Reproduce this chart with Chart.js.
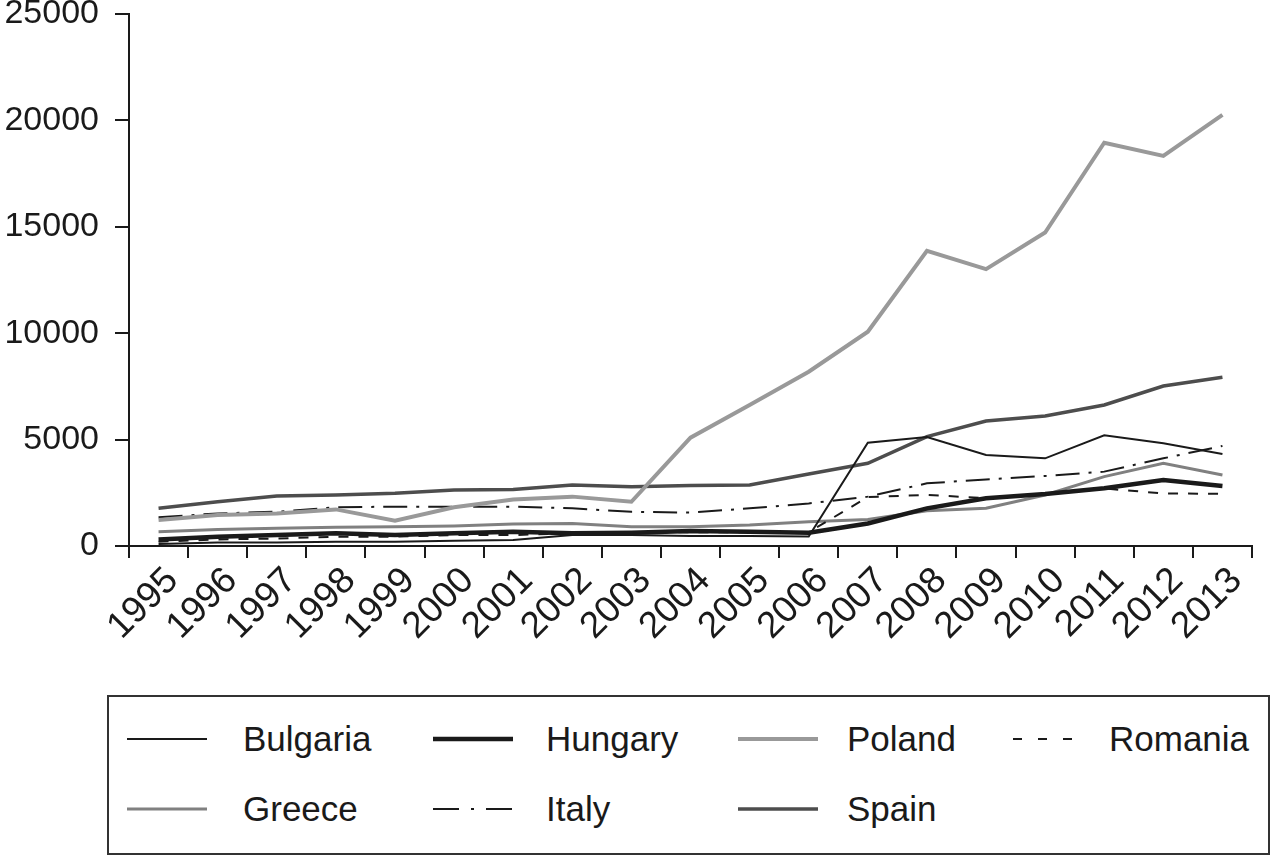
<!DOCTYPE html>
<html>
<head>
<meta charset="utf-8">
<script src="https://cdn.jsdelivr.net/npm/chart.js@4/dist/chart.umd.min.js"></script>
<style>
  html, body { margin: 0; padding: 0; background: #fff; }
  body { width: 1275px; height: 855px; position: relative; overflow: hidden; font-family: "Liberation Sans", Arial, sans-serif; }
  #wrap { position: absolute; left: 0; top: 0; width: 1275px; height: 690px; }
  #legend { position: absolute; left: 107px; top: 695px; width: 1159px; height: 156px; border: 2px solid #333; box-sizing: content-box; }
  .item { position: absolute; height: 40px; }
  .item svg { position: absolute; left: 0; top: 15px; }
  .item span { position: absolute; top: 0; font-size: 35px; line-height: 40px; color: #1a1a1a; white-space: nowrap; }
</style>
</head>
<body>
<div id="wrap"><canvas id="c" width="1275" height="690"></canvas></div>
<div id="legend"></div>
<script>
const years = ['1995','1996','1997','1998','1999','2000','2001','2002','2003','2004','2005','2006','2007','2008','2009','2010','2011','2012','2013'];
const bulgaria = [95,160,160,200,200,250,280,515,515,470,470,450,4850,5120,4275,4120,5200,4825,4320];
const hungary  = [310,440,515,595,515,595,670,600,625,700,670,620,1060,1770,2240,2440,2710,3100,2820];
const poland   = [1220,1460,1530,1720,1190,1820,2190,2320,2080,5090,6625,8190,10070,13870,13010,14730,18950,18330,20260];
const romania  = [200,310,350,440,440,515,515,600,650,650,650,650,2300,2400,2250,2450,2700,2470,2450];
const greece   = [675,780,830,880,910,940,1030,1060,910,910,990,1140,1250,1660,1770,2400,3260,3885,3340];
const italy    = [1350,1530,1610,1820,1850,1850,1850,1770,1610,1570,1770,2000,2320,2945,3130,3290,3495,4120,4700];
const spain    = [1770,2080,2350,2400,2475,2630,2660,2870,2790,2840,2870,3380,3885,5140,5870,6110,6625,7520,7925];
const yTicks   = [0,5000,10000,15000,20000,25000];

const FONT = '"Liberation Sans", Arial, sans-serif';
const INK = '#1a1a1a';

const series = [
  { label: 'Bulgaria', data: bulgaria, color: INK,       width: 2,   dash: [],            col: 0, row: 0 },
  { label: 'Hungary',  data: hungary,  color: INK,       width: 4.5, dash: [],            col: 1, row: 0 },
  { label: 'Poland',   data: poland,   color: '#999999', width: 4,   dash: [],            col: 2, row: 0 },
  { label: 'Romania',  data: romania,  color: INK,       width: 2,   dash: [10, 10],      col: 3, row: 0 },
  { label: 'Greece',   data: greece,   color: '#808080', width: 3,   dash: [],            col: 0, row: 1 },
  { label: 'Italy',    data: italy,    color: INK,       width: 2,   dash: [24, 9, 3, 9], col: 1, row: 1 },
  { label: 'Spain',    data: spain,    color: '#4d4d4d', width: 3.5, dash: [],            col: 2, row: 1 }
];

new Chart(document.getElementById('c'), {
  type: 'line',
  data: {
    labels: years,
    datasets: series.map(s => ({
      label: s.label,
      data: s.data,
      borderColor: s.color,
      backgroundColor: s.color,
      borderWidth: s.width,
      borderDash: s.dash,
      pointRadius: 0,
      tension: 0,
      fill: false,
      borderJoinStyle: 'miter'
    }))
  },
  options: {
    responsive: false,
    animation: false,
    devicePixelRatio: 1,
    layout: { padding: { top: 0, right: 23, left: 0, bottom: 0 } },
    plugins: { legend: { display: false }, tooltip: { enabled: false } },
    scales: {
      x: {
        type: 'category',
        offset: true,
        grid: { offset: true, drawOnChartArea: false, drawTicks: true, tickLength: 12, color: INK, lineWidth: 2 },
        border: { display: true, color: INK, width: 2 },
        ticks: { autoSkip: false, maxRotation: 45, minRotation: 45, padding: 1, labelOffset: 14, color: INK, font: { family: FONT, size: 37 } },
        afterFit: s => { s.height = 144; s.paddingLeft = 0; s.paddingRight = 0; }
      },
      y: {
        min: 0, max: 25000,
        afterBuildTicks: s => { s.ticks = yTicks.map(v => ({ value: v })); },
        grid: { drawOnChartArea: false, drawTicks: true, tickLength: 14, color: INK, lineWidth: 2 },
        border: { display: true, color: INK, width: 2 },
        ticks: { padding: 16, color: INK, font: { family: FONT, size: 34 }, callback: v => String(v) },
        afterFit: s => { s.width = 129; s.paddingTop = 14; s.paddingBottom = 0; }
      }
    }
  }
});

// HTML legend
const legend = document.getElementById('legend');
const colLine = [18, 324, 629, 904];
const colText = [134, 437, 738, 1000];
const rowTop = [22, 92];
series.forEach(s => {
  const d = document.createElement('div');
  d.className = 'item';
  d.style.left = colLine[s.col] + 'px';
  d.style.top = rowTop[s.row] + 'px';
  d.style.width = '300px';
  const w = s.label === 'Romania' ? 68 : 80;
  const dashAttr = s.dash.length ? (s.label === 'Romania' ? '9 16' : '26 12 3 12') : 'none';
  d.innerHTML = '<svg width="' + w + '" height="10"><line x1="0" y1="5" x2="' + w + '" y2="5" stroke="' + s.color +
    '" stroke-width="' + s.width + '" stroke-dasharray="' + dashAttr + '"/></svg>';
  const t = document.createElement('span');
  t.textContent = s.label;
  t.style.left = (colText[s.col] - colLine[s.col]) + 'px';
  d.appendChild(t);
  legend.appendChild(d);
});
</script>
</body>
</html>
